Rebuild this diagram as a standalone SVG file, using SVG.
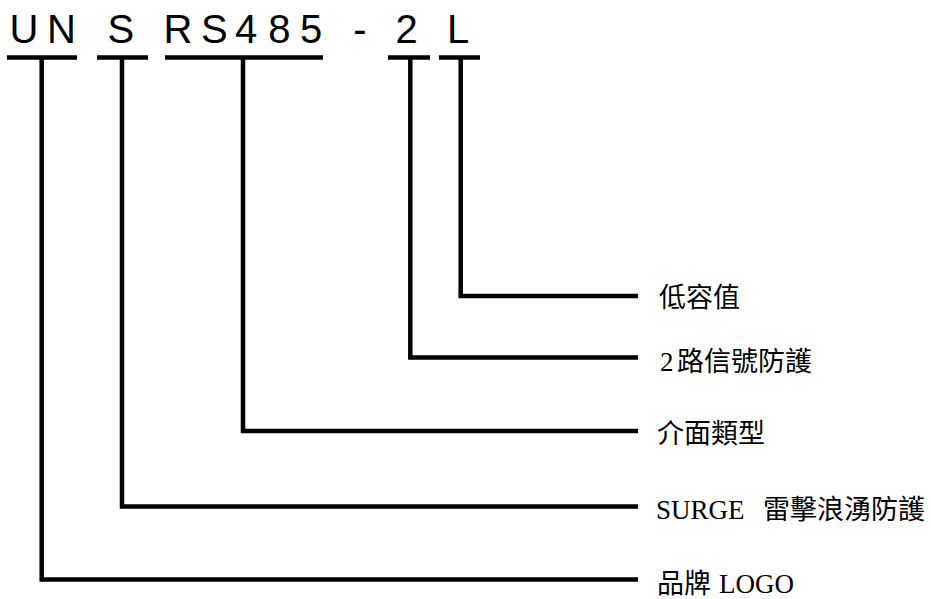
<svg xmlns="http://www.w3.org/2000/svg" width="931" height="599" viewBox="0 0 931 599">
<style>
.code{font-family:"Liberation Sans",Arial,sans-serif;font-size:40px;fill:#000}
.lbl{font-family:"Liberation Serif","Noto Sans CJK TC",serif;font-size:27px;fill:#000}
.ul{stroke:#000;stroke-width:4.5;fill:none}
.ln{stroke:#000;stroke-width:4.5;fill:none;stroke-linejoin:miter}
</style>
<rect width="931" height="599" fill="#fff"/>
<g id="code">
<text class="code" y="43.3" x="9.5 47 107.5 163.5 200.9 235 268.3 300 353.2 395.5 447">UNSRS485-2L</text>
</g>
<g id="underlines">
<line class="ul" x1="7" y1="57.5" x2="77" y2="57.5"/>
<line class="ul" x1="97" y1="57.5" x2="148" y2="57.5"/>
<line class="ul" x1="165" y1="57.5" x2="323" y2="57.5"/>
<line class="ul" x1="388" y1="57.5" x2="430" y2="57.5"/>
<line class="ul" x1="439" y1="57.5" x2="480" y2="57.5"/>
</g>
<g id="connectors">
<polyline class="ln" points="460.7,59 460.7,296 638,296"/>
<polyline class="ln" points="410.3,59 410.3,357.5 638,357.5"/>
<polyline class="ln" points="243,59 243,431 638,431"/>
<polyline class="ln" points="122,59 122,506.5 638,506.5"/>
<polyline class="ln" points="41.7,59 41.7,579.5 638,579.5"/>
</g>
<g id="node-low-cap"><text class="lbl" x="659" y="307">低容值</text></g>
<g id="node-2ch"><text class="lbl" x="660" y="370.5">2<tspan x="677">路信號防護</tspan></text></g>
<g id="node-interface"><text class="lbl" x="657" y="443">介面類型</text></g>
<g id="node-surge"><text class="lbl" x="656" y="519.3">SURGE<tspan x="763">雷擊浪湧防護</tspan></text></g>
<g id="node-logo"><text class="lbl" x="657" y="592.5">品牌<tspan x="719">LOGO</tspan></text></g>
</svg>
